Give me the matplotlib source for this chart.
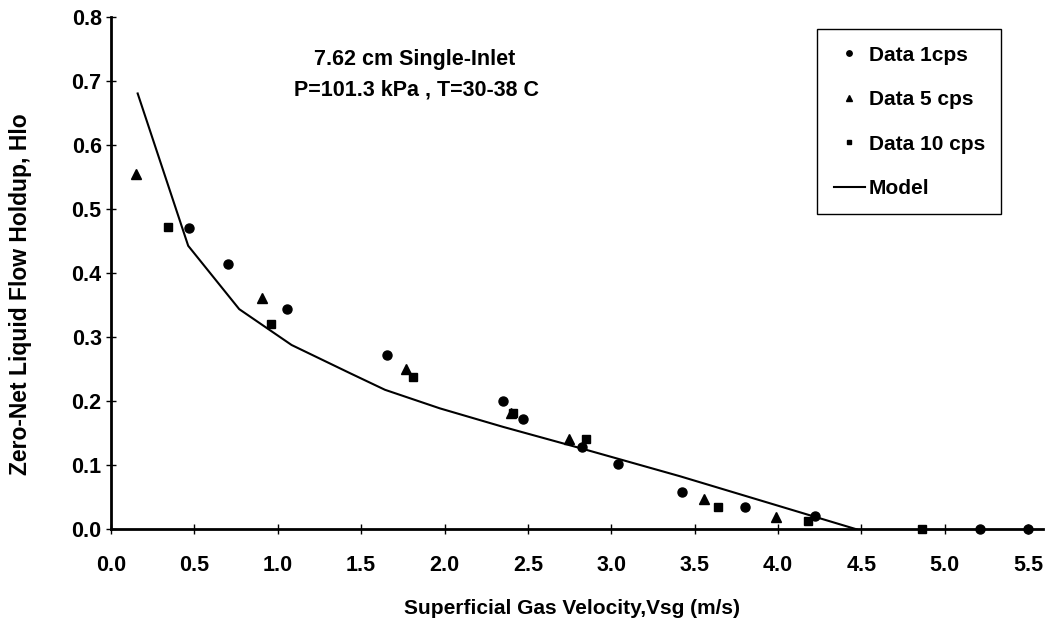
import matplotlib
matplotlib.use("Agg")
import matplotlib.pyplot as plt

plt.rcParams['font.family'] = ['Liberation Sans', 'DejaVu Sans']
plt.rcParams['font.weight'] = 'bold'

# Data 1 cps (circles)
x_1cps = [0.469, 0.700, 1.053, 1.653, 2.352, 2.472, 2.822, 3.041, 3.426, 3.801, 4.221, 5.21, 5.5]
y_1cps = [0.471, 0.415, 0.344, 0.273, 0.200, 0.172, 0.129, 0.102, 0.058, 0.035, 0.021, 0.0, 0.0]

# Data 5 cps (triangles)
x_5cps = [0.150, 0.907, 1.769, 2.396, 2.746, 3.555, 3.985]
y_5cps = [0.555, 0.362, 0.250, 0.181, 0.141, 0.047, 0.020]

# Data 10 cps (squares)
x_10cps = [0.342, 0.957, 1.809, 2.412, 2.846, 3.641, 4.180, 4.866]
y_10cps = [0.472, 0.321, 0.2375, 0.181, 0.141, 0.035, 0.013, 0.0]

# Model
x_model = [0.160, 0.463, 0.769, 1.083, 1.433, 1.643, 1.972, 2.352, 2.812, 3.411, 4.471]
y_model = [0.681, 0.443, 0.344, 0.288, 0.244, 0.218, 0.189, 0.160, 0.127, 0.083, 0.0]

x_ticks = [0.0, 0.5, 1.0, 1.5, 2.0, 2.5, 3.0, 3.5, 4.0, 4.5, 5.0, 5.5]
y_ticks = [0.0, 0.1, 0.2, 0.3, 0.4, 0.5, 0.6, 0.7, 0.8]

fig = plt.figure(figsize=(10.46, 6.18), dpi=100)
ax = fig.add_axes([0.1061, 0.1435, 0.997 - 0.1061, 0.972 - 0.1435])

ax.plot(x_1cps, y_1cps, linestyle='none', marker='o', color='black', markersize=6.5, label='Data 1cps', clip_on=False)
ax.plot(x_5cps, y_5cps, linestyle='none', marker='^', color='black', markersize=7, label='Data 5 cps', clip_on=False)
ax.plot(x_10cps, y_10cps, linestyle='none', marker='s', color='black', markersize=6, label='Data 10 cps', clip_on=False)
ax.plot(x_model, y_model, color='black', linewidth=1.5, label='Model')

ax.set_xlim(0, 5.588)
ax.set_ylim(0, 0.8)
ax.set_xticks(x_ticks)
ax.set_yticks(y_ticks)
ax.set_xticklabels([f"{v:.1f}" for v in x_ticks])
ax.set_yticklabels([f"{v:.1f}" for v in y_ticks])

for s in ['top', 'right']:
    ax.spines[s].set_visible(False)
for s in ['left', 'bottom']:
    ax.spines[s].set_linewidth(2.0)
    ax.spines[s].set_color('black')

ax.tick_params(axis='x', direction='inout', length=7.2, width=1.0, pad=14.9, labelsize=15.5)
ax.tick_params(axis='y', direction='inout', length=7.2, width=1.0, pad=3.1, labelsize=15.5)
for lab in ax.get_xticklabels() + ax.get_yticklabels():
    lab.set_fontweight('bold')

fig.text(572 / 1046, 1 - 608 / 618, 'Superficial Gas Velocity,Vsg (m/s)', ha='center', va='center',
         fontsize=15, fontweight='bold')
fig.text(20.5 / 1046, 1 - 294 / 618, 'Zero-Net Liquid Flow Holdup, Hlo', ha='center', va='center',
         rotation=90, fontsize=16.5, fontweight='bold')

fig.text(415 / 1046, 1 - 60 / 618, '7.62 cm Single-Inlet', ha='center', va='center',
         fontsize=15.5, fontweight='bold')
fig.text(416 / 1046, 1 - 90 / 618, 'P=101.3 kPa , T=30-38 C', ha='center', va='center',
         fontsize=15.5, fontweight='bold')

leg = ax.legend(loc='upper left', bbox_to_anchor=(817.3 / 1046, 1 - 29.3 / 618),
                bbox_transform=fig.transFigure, borderaxespad=0, frameon=True, fancybox=False,
                framealpha=1, edgecolor='black', prop={'weight': 'bold', 'size': 15},
                handlelength=1.52, handletextpad=0.16, labelspacing=1.225, borderpad=0.78,
                markerscale=0.6)
leg.get_frame().set_linewidth(1.0)

fig.savefig('out.png', dpi=100)
